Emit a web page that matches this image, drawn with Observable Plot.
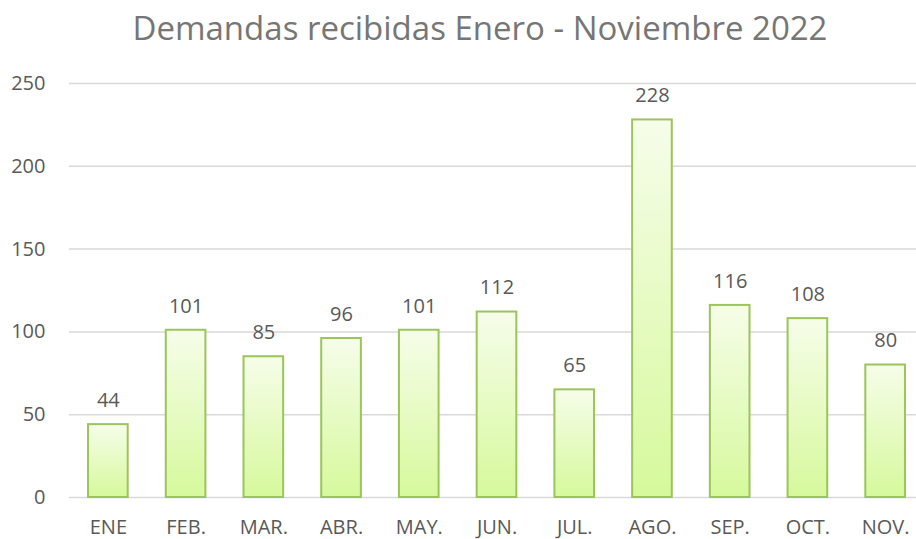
<!DOCTYPE html>
<html><head><meta charset="utf-8">
<script src="https://cdn.jsdelivr.net/npm/d3@7"></script>
<script src="https://cdn.jsdelivr.net/npm/@observablehq/plot@0.6"></script>
<style>
html,body{margin:0;padding:0;background:#fff;overflow:hidden;}
#title{font-family:"Open Sans",sans-serif;font-size:33px;color:#767676;text-align:center;width:916px;padding-left:44px;box-sizing:border-box;height:56px;line-height:56px;}
</style></head>
<body>
<div id="title">Demandas recibidas Enero - Noviembre 2022</div>
<div id="chart"></div>
<script>
const months = ["ENE","FEB.","MAR.","ABR.","MAY.","JUN.","JUL.","AGO.","SEP.","OCT.","NOV."];
const values = [44,101,85,96,101,112,65,228,116,108,80];
const yTicks = [0,50,100,150,200,250];
const data = months.map((m,i)=>({m, v: values[i]}));

const chart = Plot.plot({
  width: 916,
  height: 483,
  marginLeft: 69,
  marginRight: -8,
  marginTop: 27,
  marginBottom: 42,
  style: {fontFamily: '"Open Sans", sans-serif', fontSize: "20px", color: "#595959", overflow: "hidden"},
  x: {domain: months, paddingInner: 0.49, paddingOuter: 0.245, round: false, label: null, tickSize: 0, tickPadding: 22},
  y: {domain: [0,250], ticks: yTicks, label: null, tickSize: 0, tickPadding: 24},
  marks: [
    Plot.gridY(yTicks, {stroke: "#d9d9d9", strokeOpacity: 1, strokeWidth: 1.5}),
    Plot.barY(data, {x: "m", y: "v", fill: "url(#bargrad)", stroke: "#9bc45a", strokeWidth: 2}),
    Plot.text(data, {x: "m", y: "v", text: d => String(d.v), dy: -24, fill: "#595959", fontSize: 20})
  ]
});
const defs = d3.select(chart).insert("defs", ":first-child");
const g = defs.append("linearGradient").attr("id","bargrad").attr("x1",0).attr("y1",0).attr("x2",0).attr("y2",1);
g.append("stop").attr("offset","0%").attr("stop-color","#f6fde9");
g.append("stop").attr("offset","100%").attr("stop-color","#d6f99c");
document.getElementById("chart").appendChild(chart);
</script>
</body></html>
